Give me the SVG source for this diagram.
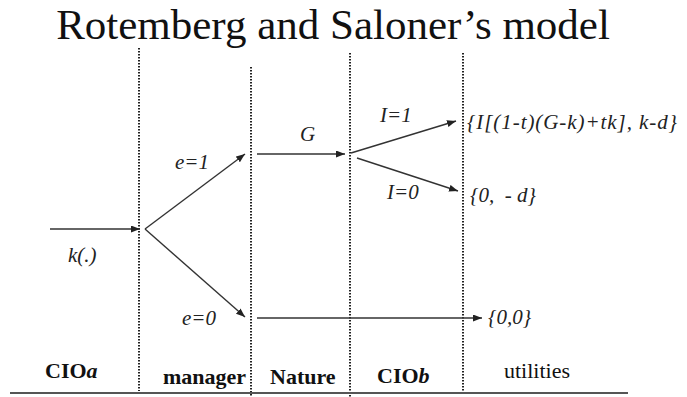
<svg xmlns="http://www.w3.org/2000/svg" width="687" height="397" viewBox="0 0 687 397">
<style>
.title{font-family:"Liberation Serif","Times New Roman",serif;font-size:43px;fill:#111;}
.lab{font-family:"Liberation Serif","Times New Roman",serif;font-size:21px;font-style:italic;fill:#222;}
.col{font-family:"Liberation Serif","Times New Roman",serif;font-size:22px;font-weight:bold;fill:#111;}
.colr{font-family:"Liberation Serif","Times New Roman",serif;font-size:22px;fill:#111;}
.dot{stroke:#222;stroke-width:2;stroke-dasharray:1.6 1.4;fill:none;}
.arr{stroke:#333;stroke-width:1.4;fill:none;marker-end:url(#ah);}
.base{stroke:#555;stroke-width:2.2;}
</style>
<defs>
<marker id="ah" markerUnits="userSpaceOnUse" markerWidth="10" markerHeight="8" refX="9" refY="3.5" orient="auto">
<path d="M0,0 L9,3.5 L0,7 z" fill="#222"/>
</marker>
</defs>
<rect width="687" height="397" fill="#fff"/>
<text class="title" x="333" y="39" text-anchor="middle">Rotemberg and Saloner’s model</text>
<g id="dividers">
<line class="dot" x1="139" y1="48" x2="139" y2="391"/>
<line class="dot" x1="251" y1="67" x2="251" y2="397"/>
<line class="dot" x1="350" y1="53" x2="350" y2="397"/>
<line class="dot" x1="463" y1="53" x2="463" y2="393"/>
<line class="base" x1="10" y1="393" x2="628" y2="393"/>
</g>
<g id="connectors">
<line class="arr" x1="50" y1="229" x2="140" y2="229"/>
<line class="arr" x1="145" y1="229" x2="245" y2="154"/>
<line class="arr" x1="145" y1="229" x2="245" y2="317"/>
<line class="arr" x1="257" y1="154" x2="345" y2="154"/>
<line class="arr" x1="351" y1="153" x2="456" y2="121"/>
<line class="arr" x1="357" y1="158" x2="458" y2="191"/>
<line class="arr" x1="257" y1="318" x2="482" y2="318"/>
<text class="lab" x="68" y="262">k(.)</text>
<text class="lab" x="175" y="169">e=1</text>
<text class="lab" x="182" y="325">e=0</text>
<text class="lab" x="300" y="141">G</text>
<text class="lab" x="380" y="122">I=1</text>
<text class="lab" x="387" y="199">I=0</text>
</g>
<g id="outcome-invest"><text class="lab" x="467" y="129" textLength="210">{I[(1-t)(G-k)+tk], k-d}</text></g>
<g id="outcome-noinvest"><text class="lab" x="470" y="202" xml:space="preserve">{0,  - d}</text></g>
<g id="outcome-noeffort"><text class="lab" x="488" y="324">{0,0}</text></g>
<g id="CIOa"><text class="col" x="45" y="378">CIO<tspan font-style="italic">a</tspan></text></g>
<g id="manager"><text class="col" x="163" y="384">manager</text></g>
<g id="Nature"><text class="col" x="270" y="384">Nature</text></g>
<g id="CIOb"><text class="col" x="377" y="383">CIO<tspan font-style="italic">b</tspan></text></g>
<g id="utilities"><text class="colr" x="504" y="378">utilities</text></g>
</svg>
